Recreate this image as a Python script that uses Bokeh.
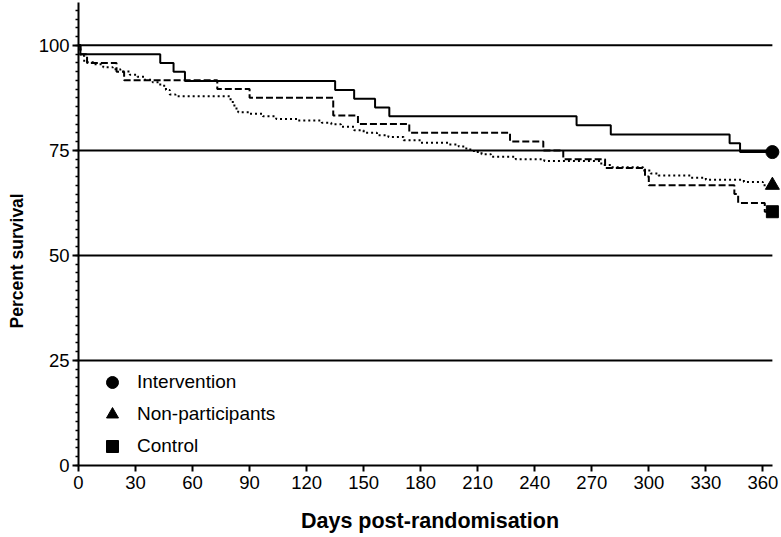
from bokeh.plotting import figure
from bokeh.models import Range1d, SingleIntervalTicker, Legend, ColumnDataSource, Title
from bokeh.embed import file_html
from bokeh.resources import INLINE

# ---------------- data ----------------
follow_up_start = 0
follow_up_end = 365
reference_levels = [25, 50, 75, 100]

x_tick_interval = 30
y_tick_interval = 25

intervention_days = [0, 1, 43, 50, 56, 135, 145, 156, 163.5, 262, 280, 342.5, 348, 365]
intervention_surv = [100, 97.9, 95.8, 93.7, 91.5, 89.4, 87.3, 85.2, 83.1, 81.0, 78.8, 76.7, 74.6, 74.6]

nonpart_days = [0, 1, 3, 8, 13, 18, 22, 27, 31, 35, 39, 43, 46, 48, 51, 80, 82, 84, 90, 97,
                104, 115, 128, 133, 138, 145, 150, 157, 163, 171, 180, 195, 200, 204, 208,
                212, 217, 230, 245, 275, 280, 297, 301, 305, 322, 330, 350, 360, 365]
nonpart_surv = [100, 97.5, 96.0, 95.5, 94.8, 94.3, 93.8, 93.0, 92.5, 91.8, 91.2, 90.4, 89.4, 88.3,
                87.9, 86.5, 85.0, 84.1, 83.7, 83.1, 82.5, 82.1, 81.6, 81.2, 80.6, 79.8, 79.2, 78.6,
                78.2, 77.4, 76.8, 76.4, 75.9, 75.2, 74.6, 74.1, 73.5, 72.9, 72.5, 71.5, 71.0, 70.2,
                69.5, 69.0, 68.5, 68.0, 67.5, 66.7, 66.7]

control_days = [0, 1, 4.5, 20, 24, 73, 90, 134, 147, 174, 227, 244.5, 255, 277, 298, 300, 345, 347, 361, 365]
control_surv = [100, 97.9, 95.8, 93.7, 91.7, 89.6, 87.5, 83.3, 81.3, 79.2, 77.1, 75.0, 72.9, 70.8,
                68.8, 66.7, 64.6, 62.5, 60.4, 60.4]

series_names = ["Intervention", "Non-participants", "Control"]

FONT = "Liberation Sans"
TICK_SIZE = "18.5px"

p = figure(width=781, height=537, output_backend="svg", toolbar_location=None,
           x_range=Range1d(0, 369.8), y_range=Range1d(0, 110.2),
           min_border_left=78, min_border_right=0, min_border_top=2, min_border_bottom=72)
p.outline_line_color = None
p.xgrid.visible = False
p.ygrid.visible = False
p.background_fill_color = "white"
p.border_fill_color = "white"

# reference lines
p.segment(x0=follow_up_start, x1=follow_up_end, y0=reference_levels, y1=reference_levels,
          line_color="black", line_width=2)

# survival curves
src_i = ColumnDataSource(dict(x=intervention_days, y=intervention_surv))
src_n = ColumnDataSource(dict(x=nonpart_days, y=nonpart_surv))
src_c = ColumnDataSource(dict(x=control_days, y=control_surv))

p.step("x", "y", source=src_n, mode="after", line_color="black", line_width=2, line_dash="2 3")
p.step("x", "y", source=src_c, mode="after", line_color="black", line_width=2, line_dash="7 3")
p.step("x", "y", source=src_i, mode="after", line_color="black", line_width=2)

r_i = p.scatter(x=[intervention_days[-1]], y=[intervention_surv[-1]], marker="circle", size=13, color="black")
r_n = p.scatter(x=[nonpart_days[-1]], y=[nonpart_surv[-1]], marker="triangle", size=14, color="black")
r_c = p.scatter(x=[control_days[-1]], y=[control_surv[-1]], marker="square", size=12, color="black")

legend = Legend(items=[(series_names[0], [r_i]), (series_names[1], [r_n]), (series_names[2], [r_c])],
                location=(19, 4), glyph_width=30, glyph_height=30, spacing=2, padding=0, margin=0,
                label_standoff=10, border_line_color=None, background_fill_alpha=0,
                label_text_font=FONT, label_text_font_size="19px", label_text_color="black")
p.add_layout(legend)

# axes
xa = p.xaxis[0]
xa.ticker = SingleIntervalTicker(interval=x_tick_interval, num_minor_ticks=0)
xa.bounds = (follow_up_start, follow_up_end)
ya = p.yaxis[0]
ya.ticker = SingleIntervalTicker(interval=y_tick_interval, num_minor_ticks=12)

for ax in (xa, ya):
    ax.axis_line_color = "black"
    ax.axis_line_width = 2
    ax.major_tick_line_color = "black"
    ax.major_tick_line_width = 2
    ax.major_tick_out = 6
    ax.major_tick_in = 0
    ax.minor_tick_line_color = "black"
    ax.minor_tick_line_width = 1.5
    ax.minor_tick_out = 3
    ax.minor_tick_in = 0
    ax.major_label_text_font = FONT
    ax.major_label_text_font_size = TICK_SIZE
    ax.major_label_text_color = "black"

xa.major_label_standoff = 4
ya.major_label_standoff = 3

xa.axis_label = "Days post-randomisation"
xa.axis_label_text_font = FONT
xa.axis_label_text_font_size = "21.5px"
xa.axis_label_text_font_style = "bold"
xa.axis_label_text_color = "black"
xa.axis_label_standoff = 17

ytitle = Title(text="Percent survival", align="left", offset=137, vertical_align="top",
               standoff=13, text_font=FONT, text_font_size="17.5px", text_font_style="bold",
               text_color="black")
p.add_layout(ytitle, "left")

open("out.html", "w").write(file_html(p, INLINE))
